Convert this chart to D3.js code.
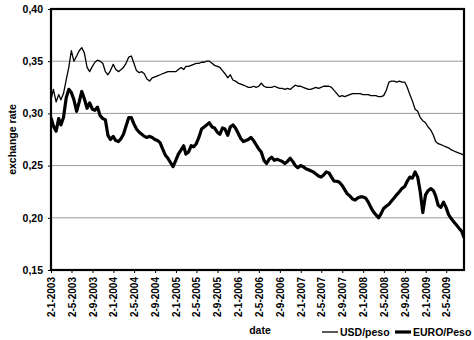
<!DOCTYPE html>
<html><head><meta charset="utf-8">
<script src="https://cdn.jsdelivr.net/npm/d3@7"></script>
<style>body{margin:0;background:#fff}svg{display:block}</style>
</head><body>
<svg id="c" width="474" height="340"></svg>
<script>
const dates = [
"2003-01-02","2003-01-16","2003-02-01","2003-02-16","2003-03-01","2003-03-16","2003-04-01","2003-04-16","2003-05-01","2003-05-16","2003-06-01","2003-06-16","2003-07-01","2003-07-16","2003-08-01","2003-08-16","2003-09-01","2003-09-16","2003-10-01","2003-10-16","2003-11-01","2003-11-16","2003-12-01","2003-12-16",
"2004-01-01","2004-01-16","2004-02-01","2004-02-16","2004-03-01","2004-03-16","2004-04-01","2004-04-16","2004-05-01","2004-05-16","2004-06-01","2004-06-16","2004-07-01","2004-07-16","2004-08-01","2004-08-16","2004-09-01","2004-09-16","2004-10-01","2004-10-16","2004-11-01","2004-11-16","2004-12-01","2004-12-16",
"2005-01-01","2005-01-16","2005-02-01","2005-02-16","2005-03-01","2005-03-16","2005-04-01","2005-04-16","2005-05-01","2005-05-16","2005-06-01","2005-06-16","2005-07-01","2005-07-16","2005-08-01","2005-08-16","2005-09-01","2005-09-16","2005-10-01","2005-10-16","2005-11-01","2005-11-16","2005-12-01","2005-12-16",
"2006-01-01","2006-01-16","2006-02-01","2006-02-16","2006-03-01","2006-03-16","2006-04-01","2006-04-16","2006-05-01","2006-05-16","2006-06-01","2006-06-16","2006-07-01","2006-07-16","2006-08-01","2006-08-16","2006-09-01","2006-09-16","2006-10-01","2006-10-16","2006-11-01","2006-11-16","2006-12-01","2006-12-16",
"2007-01-01","2007-01-16","2007-02-01","2007-02-16","2007-03-01","2007-03-16","2007-04-01","2007-04-16","2007-05-01","2007-05-16","2007-06-01","2007-06-16","2007-07-01","2007-07-16","2007-08-01","2007-08-16","2007-09-01","2007-09-16","2007-10-01","2007-10-16","2007-11-01","2007-11-16","2007-12-01","2007-12-16",
"2008-01-01","2008-01-16","2008-02-01","2008-02-16","2008-03-01","2008-03-16","2008-04-01","2008-04-16","2008-05-01","2008-05-16","2008-06-01","2008-06-16","2008-07-01","2008-07-16","2008-08-01","2008-08-16","2008-09-01","2008-09-16","2008-10-01","2008-10-16","2008-11-01","2008-11-16","2008-12-01","2008-12-16",
"2009-01-01","2009-01-16","2009-02-01","2009-02-16","2009-03-01","2009-03-16","2009-04-01","2009-04-16","2009-05-01","2009-05-16","2009-06-01","2009-06-16","2009-07-01","2009-07-16","2009-08-01","2009-08-14"
];
const usdPeso = [
0.313,0.323,0.311,0.318,0.313,0.319,0.332,0.344,0.360,0.350,0.355,0.360,0.363,0.358,0.344,0.340,0.345,0.349,0.351,0.350,0.348,0.340,0.337,0.341,
0.347,0.342,0.340,0.342,0.344,0.348,0.354,0.355,0.348,0.341,0.339,0.340,0.338,0.333,0.331,0.334,0.335,0.336,0.337,0.338,0.339,0.340,0.340,0.340,
0.340,0.342,0.344,0.342,0.345,0.345,0.346,0.347,0.348,0.348,0.349,0.349,0.350,0.350,0.348,0.346,0.345,0.344,0.341,0.338,0.334,0.337,0.332,0.331,
0.329,0.328,0.327,0.326,0.325,0.325,0.326,0.325,0.326,0.329,0.326,0.325,0.325,0.325,0.326,0.325,0.324,0.324,0.323,0.324,0.323,0.325,0.327,0.326,
0.326,0.325,0.324,0.323,0.323,0.324,0.325,0.324,0.325,0.326,0.326,0.326,0.325,0.322,0.319,0.316,0.317,0.316,0.317,0.318,0.319,0.319,0.319,0.319,
0.318,0.318,0.318,0.317,0.317,0.317,0.316,0.316,0.317,0.322,0.330,0.331,0.331,0.330,0.331,0.330,0.330,0.325,0.318,0.312,0.304,0.302,0.296,0.293,
0.291,0.287,0.284,0.279,0.273,0.271,0.270,0.269,0.268,0.267,0.265,0.264,0.263,0.262,0.261,0.260
];
const euroPeso = [
0.296,0.288,0.283,0.295,0.289,0.296,0.315,0.323,0.320,0.313,0.302,0.311,0.321,0.314,0.305,0.310,0.304,0.303,0.306,0.298,0.295,0.294,0.279,0.275,
0.278,0.274,0.273,0.276,0.280,0.288,0.296,0.296,0.290,0.285,0.282,0.280,0.278,0.277,0.278,0.277,0.275,0.274,0.272,0.266,0.260,0.257,0.253,0.249,
0.255,0.261,0.265,0.269,0.261,0.263,0.269,0.268,0.271,0.277,0.285,0.287,0.289,0.291,0.287,0.286,0.282,0.280,0.286,0.285,0.279,0.287,0.289,0.286,
0.281,0.276,0.273,0.274,0.275,0.277,0.274,0.270,0.266,0.263,0.255,0.252,0.256,0.258,0.255,0.256,0.255,0.254,0.252,0.254,0.257,0.254,0.250,0.248,
0.250,0.249,0.247,0.246,0.245,0.244,0.242,0.240,0.239,0.241,0.244,0.243,0.239,0.235,0.235,0.234,0.231,0.227,0.223,0.221,0.218,0.217,0.219,0.220,
0.220,0.219,0.215,0.210,0.206,0.203,0.200,0.204,0.209,0.211,0.213,0.216,0.219,0.222,0.225,0.228,0.230,0.235,0.239,0.238,0.244,0.239,0.225,0.205,
0.222,0.226,0.228,0.226,0.221,0.212,0.210,0.215,0.210,0.203,0.199,0.196,0.193,0.190,0.187,0.181
];
const yTicks = [0.15, 0.20, 0.25, 0.30, 0.35, 0.40];
const xTickDates = ["2003-01-02","2003-05-02","2003-09-02","2004-01-02","2004-05-02","2004-09-02","2005-01-02","2005-05-02","2005-09-02","2006-01-02","2006-05-02","2006-09-02","2007-01-02","2007-05-02","2007-09-02","2008-01-02","2008-05-02","2008-09-02","2009-01-02","2009-05-02"];
const seriesNames = ["USD/peso", "EURO/Peso"];

const W = 474, H = 340;
const m = {left: 51, top: 9, right: 10, bottom: 70};
const iw = W - m.left - m.right, ih = H - m.top - m.bottom;
const parse = d3.timeParse("%Y-%m-%d");
const font = "'Liberation Sans', Arial, sans-serif";

const svg = d3.select("#c");
const g = svg.append("g").attr("transform", `translate(${m.left},${m.top})`);

const x = d3.scaleTime().domain([parse("2003-01-02"), parse("2009-08-14")]).range([0, iw]);
const y = d3.scaleLinear().domain([0.15, 0.40]).range([ih, 0]);

// gridlines
g.append("g").selectAll("line").data(yTicks.slice(1, -1)).join("line")
  .attr("x1", 0).attr("x2", iw).attr("y1", d => y(d)).attr("y2", d => y(d))
  .attr("stroke", "#9a9a9a").attr("stroke-width", 1);

svg.append("defs").append("clipPath").attr("id", "clip")
  .append("rect").attr("width", iw).attr("height", ih);

const mk = vals => dates.map((d, i) => ({d: parse(d), v: vals[i]})).filter(p => p.v != null);
const line = d3.line().x(p => x(p.d)).y(p => y(p.v));

const lg = g.append("g").attr("clip-path", "url(#clip)");
lg.append("path").datum(mk(usdPeso)).attr("d", line)
  .attr("fill", "none").attr("stroke", "#000").attr("stroke-width", 1.3).attr("stroke-linejoin", "round");
lg.append("path").datum(mk(euroPeso)).attr("d", line)
  .attr("fill", "none").attr("stroke", "#000").attr("stroke-width", 3.2).attr("stroke-linejoin", "round");

// y axis
const ya = g.append("g").call(d3.axisLeft(y).tickValues(yTicks)
  .tickFormat(d => d3.format(".2f")(d).replace(".", ",")).tickSize(3).tickPadding(5));
ya.select(".domain").remove();
ya.selectAll("text").attr("font-family", font).attr("font-weight", "bold").attr("font-size", 10.5).attr("fill", "#000");

// x axis
const xa = g.append("g").attr("transform", `translate(0,${ih})`)
  .call(d3.axisBottom(x).tickValues(xTickDates.map(parse))
    .tickFormat(d => `${d.getDate()}-${d.getMonth() + 1}-${d.getFullYear()}`).tickSize(3));
xa.select(".domain").remove();
xa.selectAll("text").attr("transform", "rotate(-90)").attr("x", -7).attr("y", 0).attr("dy", "0.35em")
  .attr("text-anchor", "end").attr("font-family", font).attr("font-weight", "bold").attr("font-size", 10).attr("fill", "#000");

// border
g.append("rect").attr("width", iw).attr("height", ih).attr("fill", "none").attr("stroke", "#000").attr("stroke-width", 2.2);

// titles
svg.append("text").attr("transform", `translate(16,${m.top + ih / 2}) rotate(-90)`).attr("text-anchor", "middle")
  .attr("font-family", font).attr("font-weight", "bold").attr("font-size", 10.5).text("exchange rate");
svg.append("text").attr("x", 260).attr("y", 334).attr("text-anchor", "middle")
  .attr("font-family", font).attr("font-weight", "bold").attr("font-size", 10.5).text("date");

// legend
const leg = svg.append("g");
const items = [{name: seriesNames[0], x: 322, w: 1.3}, {name: seriesNames[1], x: 395, w: 3.2}];
items.forEach(it => {
  leg.append("line").attr("x1", it.x).attr("x2", it.x + 16).attr("y1", 332).attr("y2", 332)
    .attr("stroke", "#000").attr("stroke-width", it.w);
  leg.append("text").attr("x", it.x + 18).attr("y", 336).attr("font-family", font).attr("font-weight", "bold")
    .attr("font-size", 10.5).text(it.name);
});
</script>
</body></html>
